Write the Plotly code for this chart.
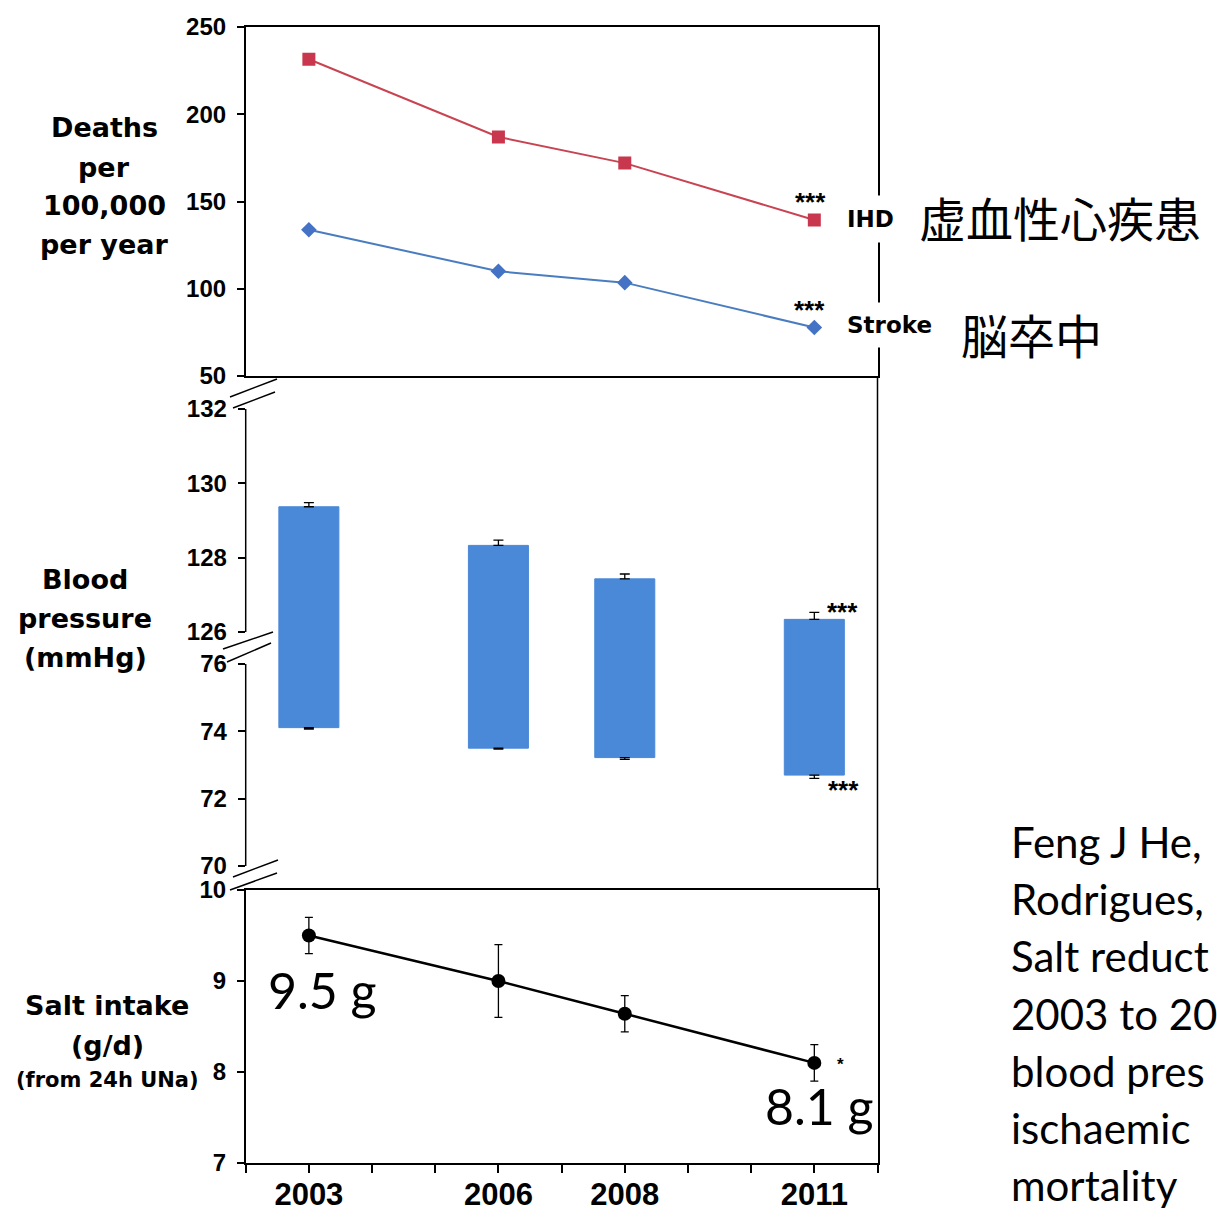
import plotly.graph_objects as go

W = H = 1217

# ---------------- data ----------------
years = [2003, 2006, 2008, 2011]
ihd = [231.5, 187.0, 172.0, 139.4]
stroke = [133.8, 110.0, 103.5, 77.8]
sbp = [129.37, 128.33, 127.43, 126.34]
sbp_err = [0.11, 0.14, 0.13, 0.19]
dbp = [74.11, 73.50, 73.22, 72.70]
dbp_err = [0.04, 0.03, 0.05, 0.10]
salt = [9.5, 9.0, 8.64, 8.1]
salt_err = [0.2, 0.4, 0.2, 0.2]

deaths_ticks = [50, 100, 150, 200, 250]
sbp_ticks = [126, 128, 130, 132]
dbp_ticks = [70, 72, 74, 76]
salt_ticks = [7, 8, 9, 10]
year_ticks = list(range(2002, 2013))
year_labels = [str(y) if y in years else "" for y in year_ticks]

cite = ["Feng J He,", "Rodrigues,", "Salt reduct", "2003 to 20",
        "blood pres", "ischaemic", "mortality"]

# ---------------- geometry helpers ----------------
def px(x):
    return x / W

def py(y):
    return 1 - y / H

X0, X1 = 245.7, 877.5
TOP_PX = (27, 376)
SBP_PX = (409, 632)    # pixel rows of 132 and 126
DBP_PX = (664, 866)    # pixel rows of 76 and 70
SPLIT_UP = 648         # the two BP segments meet on a whole pixel row
SPLIT_LO = 648
SALT_PX = (890, 1163)

sbp_scale = (sbp_ticks[-1] - sbp_ticks[0]) / (SBP_PX[1] - SBP_PX[0])
sbp_lo = sbp_ticks[0] - (SPLIT_UP - SBP_PX[1]) * sbp_scale
dbp_scale = (dbp_ticks[-1] - dbp_ticks[0]) / (DBP_PX[1] - DBP_PX[0])
dbp_hi = dbp_ticks[-1] + (DBP_PX[0] - SPLIT_LO) * dbp_scale

RED_M = "#C8374D"
RED_L = "#C84452"
BLUE_M = "#4472C4"
BLUE_L = "#4A7DC0"
BAR = "#4A88D8"
BLK = "#000000"

fig = go.Figure()

# top panel
fig.add_trace(go.Scatter(x=years, y=ihd, mode="lines+markers", name="IHD",
                         line=dict(color=RED_L, width=2),
                         marker=dict(symbol="square", size=13, color=RED_M),
                         xaxis="x", yaxis="y"))
fig.add_trace(go.Scatter(x=years, y=stroke, mode="lines+markers", name="Stroke",
                         line=dict(color=BLUE_L, width=2),
                         marker=dict(symbol="diamond", size=12, color=BLUE_M),
                         xaxis="x", yaxis="y"))

# middle panel: floating bars diastolic -> systolic drawn on both broken segments
span = [s - d for s, d in zip(sbp, dbp)]
for xa, ya in (("x2", "y2"), ("x3", "y3")):
    fig.add_trace(go.Bar(x=years, y=span, base=dbp, width=0.95,
                         marker=dict(color=BAR, line=dict(width=1, color=BAR)),
                         xaxis=xa, yaxis=ya))
fig.add_trace(go.Scatter(x=years, y=sbp, mode="markers",
                         marker=dict(size=1, color="rgba(0,0,0,0)"),
                         error_y=dict(type="data", symmetric=False, array=sbp_err,
                                      arrayminus=[0] * len(years), color=BLK,
                                      thickness=1.3, width=5),
                         xaxis="x2", yaxis="y2"))
fig.add_trace(go.Scatter(x=years, y=dbp, mode="markers",
                         marker=dict(size=1, color="rgba(0,0,0,0)"),
                         error_y=dict(type="data", symmetric=False,
                                      array=[0] * len(years), arrayminus=dbp_err,
                                      color=BLK, thickness=1.3, width=5),
                         xaxis="x3", yaxis="y3"))

# bottom panel
fig.add_trace(go.Scatter(x=years, y=salt, mode="lines+markers",
                         line=dict(color=BLK, width=2.5),
                         marker=dict(symbol="circle", size=14, color=BLK),
                         error_y=dict(type="data", array=salt_err, color=BLK,
                                      thickness=1.3, width=4),
                         xaxis="x4", yaxis="y4"))

tickfont = dict(family="Liberation Sans", size=24, color=BLK, weight="bold")
xdom = [px(X0), px(X1)]
common_y = dict(showgrid=False, zeroline=False, ticks="outside", ticklen=7,
                tickwidth=1.5, tickcolor=BLK, tickfont=tickfont,
                ticklabelstandoff=6, automargin=False)

fig.update_layout(
    template="none",
    width=W, height=H, margin=dict(l=0, r=0, t=0, b=0, pad=0), autosize=False,
    paper_bgcolor="white", plot_bgcolor="rgba(0,0,0,0)", showlegend=False,
    font=dict(family="Liberation Sans", color=BLK),
    xaxis=dict(domain=xdom, range=[2002, 2012], anchor="y", showline=True,
               mirror=True, linecolor=BLK, linewidth=1.5, ticks="",
               showticklabels=False, showgrid=False, zeroline=False,
               automargin=False),
    yaxis=dict(domain=[py(TOP_PX[1]), py(TOP_PX[0])], range=[50, 250], anchor="x",
               tickvals=deaths_ticks, showline=True, mirror=True,
               linecolor=BLK, linewidth=1.5, **common_y),
    xaxis2=dict(domain=xdom, range=[2002, 2012], anchor="y2", visible=False,
                automargin=False),
    xaxis3=dict(domain=xdom, range=[2002, 2012], anchor="y3", visible=False,
                automargin=False),
    yaxis2=dict(domain=[py(SPLIT_UP), py(SBP_PX[0])], range=[sbp_lo, sbp_ticks[-1]],
                anchor="x2", tickvals=sbp_ticks, showline=False, **common_y),
    yaxis3=dict(domain=[py(DBP_PX[1]), py(SPLIT_LO)], range=[dbp_ticks[0], dbp_hi],
                anchor="x3", tickvals=dbp_ticks, showline=False, **common_y),
    xaxis4=dict(domain=xdom, range=[2002, 2012], anchor="y4", showline=True,
                mirror=True, linecolor=BLK, linewidth=1.5, ticks="outside",
                ticklen=8, tickwidth=1.5, tickcolor=BLK, tickvals=year_ticks,
                ticktext=year_labels, showgrid=False, zeroline=False,
                tickfont=dict(family="Liberation Sans", size=31, color=BLK,
                              weight="bold"),
                ticklabelstandoff=-5, automargin=False),
    yaxis4=dict(domain=[py(SALT_PX[1]), py(SALT_PX[0])], range=[7, 10], anchor="x4",
                tickvals=salt_ticks, showline=True, mirror=True, linecolor=BLK,
                linewidth=1.5, **common_y),
)

# ---------------- decorations ----------------
shapes = []
line = dict(color=BLK, width=1.5)
# right border of the middle panel
shapes.append(dict(type="line", xref="paper", yref="paper", x0=px(X1), x1=px(X1),
                   y0=py(TOP_PX[1]), y1=py(SALT_PX[0]), line=line))
# left axis segments of the broken middle axis
shapes.append(dict(type="line", xref="paper", yref="y2", x0=px(X0), x1=px(X0),
                   y0=sbp_ticks[0], y1=sbp_ticks[-1], line=line))
shapes.append(dict(type="line", xref="paper", yref="y3", x0=px(X0), x1=px(X0),
                   y0=dbp_ticks[0], y1=dbp_ticks[-1], line=line))
# axis-break marks (pairs of diagonal strokes)
breaks = [
    ((230, 397), (277, 379)), ((233, 408), (275, 392)),
    ((223, 649), (273, 632)), ((227, 662), (271, 643)),
    ((233, 877), (278, 860)), ((230, 890), (277, 873)),
]
for (ax0, ay0), (ax1, ay1) in breaks:
    shapes.append(dict(type="line", xref="paper", yref="paper",
                       x0=px(ax0), y0=py(ay0), x1=px(ax1), y1=py(ay1), line=line))
fig.update_layout(shapes=shapes)

ann = []

def text(x, y, s, size, family="DejaVu Sans", xanchor="center", yanchor="middle",
         bold=True, **kw):
    ann.append(dict(x=px(x), y=py(y), xref="paper", yref="paper",
                    text=(f"<b>{s}</b>" if bold else s),
                    showarrow=False, xanchor=xanchor, yanchor=yanchor,
                    font=dict(family=family, size=size, color=BLK), **kw))

# axis titles
for s, yy in zip(["Deaths", "per", "100,000", "per year"], [128, 167, 205, 244]):
    text(104, yy, s, 27)
for s, yy in zip(["Blood", "pressure", "(mmHg)"], [579, 618, 657]):
    text(85, yy, s, 27)
text(107, 1005, "Salt intake", 27)
text(107, 1045, "(g/d)", 27)
text(107, 1080, "(from 24h UNa)", 21)

# series labels (white box breaks the right border)
text(870, 219, "IHD", 23, bgcolor="white", borderpad=10)
text(889, 325, "Stroke", 23, bgcolor="white", borderpad=9)
text(917, 216, "虚血性心疾患", 47, family="Noto Sans CJK JP", xanchor="left", bold=False)
text(959, 333, "脳卒中", 47, family="Noto Sans CJK JP", xanchor="left", bold=False)

# significance stars
for (x, y, s) in [(810, 202, "***"), (809, 310, "***"), (842, 612, "***"),
                  (843, 790, "***")]:
    text(x, y, s, 26, family="Liberation Sans")
text(840, 1075, "*", 17, family="Liberation Sans", yanchor="bottom", borderpad=0)

# salt values
text(322, 990, f"{salt[0]} g", 50, family="Lato", bold=False)
text(819, 1106, f"{salt[-1]} g", 50, family="Lato", bold=False)

# citation (as much as is visible at the right edge)
for i, s in enumerate(cite):
    text(1009, 842 + 57.2 * i, s, 42, family="Lato", xanchor="left", bold=False)

fig.update_layout(annotations=ann)

fig.write_html("out.html", config={"displayModeBar": False},
               post_script="document.body.style.margin='0';document.body.style.overflow='hidden';")
